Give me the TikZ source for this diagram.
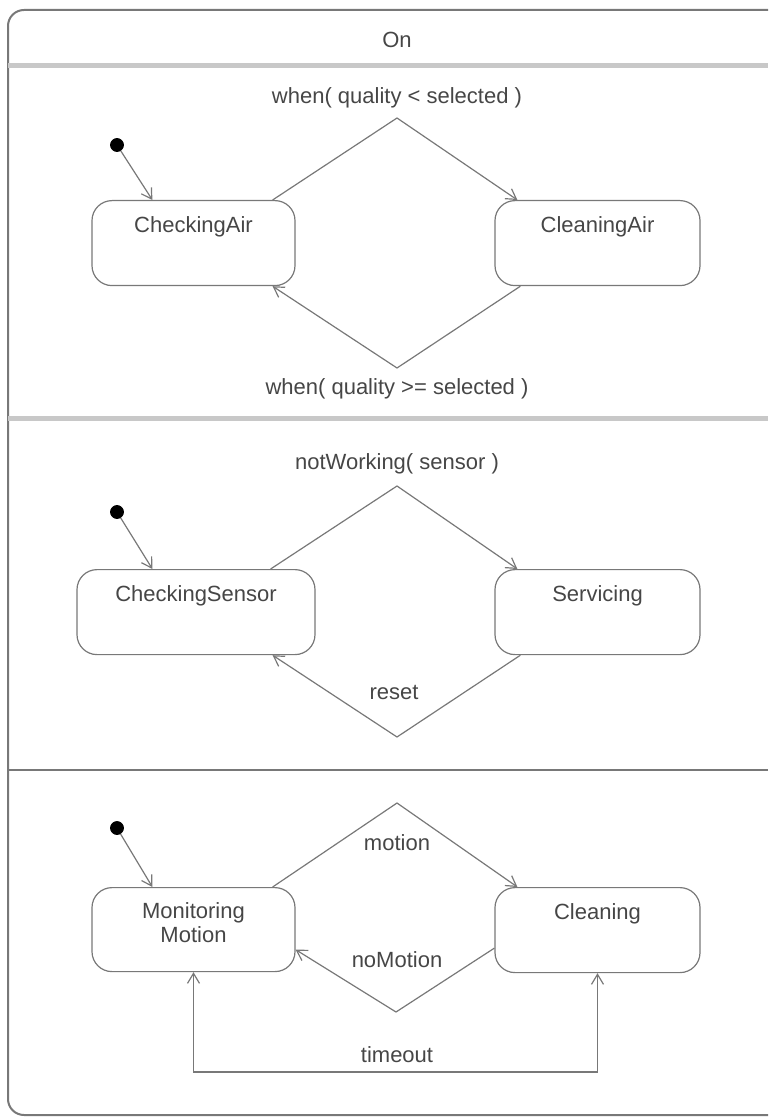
\documentclass[tikz,border=0pt]{standalone}
\usepackage{fontspec}
\setmainfont{Liberation Sans}
\usepackage{xcolor}
\usetikzlibrary{arrows.meta}
\definecolor{linegray}{RGB}{120,120,120}
\definecolor{textgray}{RGB}{70,70,70}
\definecolor{sepgray}{RGB}{200,200,200}

\begin{document}
\begin{tikzpicture}[x=0.5pt, y=-0.5pt, >={Straight Barb[length=5pt,width=6pt]},
    every node/.style={text=textgray, font=\fontsize{11}{12}\selectfont},
    state/.style={draw=linegray, line width=0.6pt, rounded corners=10pt, anchor=north,
      minimum width=101.5pt, inner xsep=0pt, inner ysep=0pt, text height=16pt, text depth=26.5pt},
    init node/.style={circle, draw=black, fill=black, inner sep=0pt, minimum size=6.5pt},
    trans/.style={draw=linegray, line width=0.6pt} ]
    \clip (0,0) rectangle (768,1117);
    \draw [linegray, line width=1pt, rounded corners=8pt] (8,10) rectangle (790,1115);
    \node (on) at (397,40) {On};
    \draw [sepgray, line width=2.5pt] (8,66) -- (768,66);
    \draw [sepgray, line width=2.5pt] (8,418) -- (768,418);
    \draw [linegray, line width=1pt] (8,770) -- (768,770);
    % air
    \node [state] (ca) at (193.5,200) {CheckingAir};
    \node [state, minimum width=102.5pt] (cl) at (597.5,200) {CleaningAir};
    \node [init node] (i1) at (117,145) {};
    \draw [trans,->] (i1) -- ([xshift=30.5pt]ca.north west);
    \coordinate (a1) at (397,118);
    \coordinate (a2) at (397,368);
    \node (l1) at (397,98) {when( quality < selected )};
    \node (l2) at (397,389) {when( quality >= selected )};
    \draw [trans,->] ([xshift=-11.5pt]ca.north east) -- (a1) -- ([xshift=11.5pt]cl.north west);
    \draw [trans,->] ([xshift=13pt]cl.south west) -- (a2) -- ([xshift=-11.5pt]ca.south east);
    % sensor
    \node [state, minimum width=119pt] (cs) at (196,569) {CheckingSensor};
    \node [state, minimum width=102.5pt] (sv) at (597.5,569) {Servicing};
    \node [init node] (i2) at (117,512) {};
    \draw [trans,->] (i2) -- ([xshift=38pt]cs.north west);
    \coordinate (b1) at (397,486);
    \coordinate (b2) at (397,737);
    \node (l3) at (397,464) {notWorking( sensor )};
    \node (l4) at (394,692) {reset};
    \draw [trans,->] ([xshift=-22.5pt]cs.north east) -- (b1) -- ([xshift=11.5pt]sv.north west);
    \draw [trans,->] ([xshift=13pt]sv.south west) -- (b2) -- ([xshift=-21.5pt]cs.south east);
    % motion
    \node [state, align=center, text height=27.5pt, text depth=14.5pt] (mm) at (193.5,887) {Monitoring\\Motion};
    \node [state, minimum width=102.5pt] (cg) at (597.5,887) {Cleaning};
    \node [init node] (i3) at (117,828) {};
    \draw [trans,->] (i3) -- ([xshift=30.5pt]mm.north west);
    \coordinate (c1) at (397,803);
    \coordinate (c2) at (396,1012);
    \node (l5) at (397,843) {motion};
    \node (l6) at (397,960) {noMotion};
    \draw [trans,->] ([xshift=-11.5pt]mm.north east) -- (c1) -- ([xshift=11.5pt]cg.north west);
    \draw [trans,->] ([yshift=-9pt]cg.west) -- (c2) -- ([yshift=-10pt]mm.east);
    \coordinate (d1) at (193.5,1072);
    \coordinate (d2) at (597.5,1072);
    \node (l7) at (397,1055) {timeout};
    \draw [trans,<->] (mm.south) -- (d1) -- (d2) -- (cg.south);
\end{tikzpicture}
\end{document}
